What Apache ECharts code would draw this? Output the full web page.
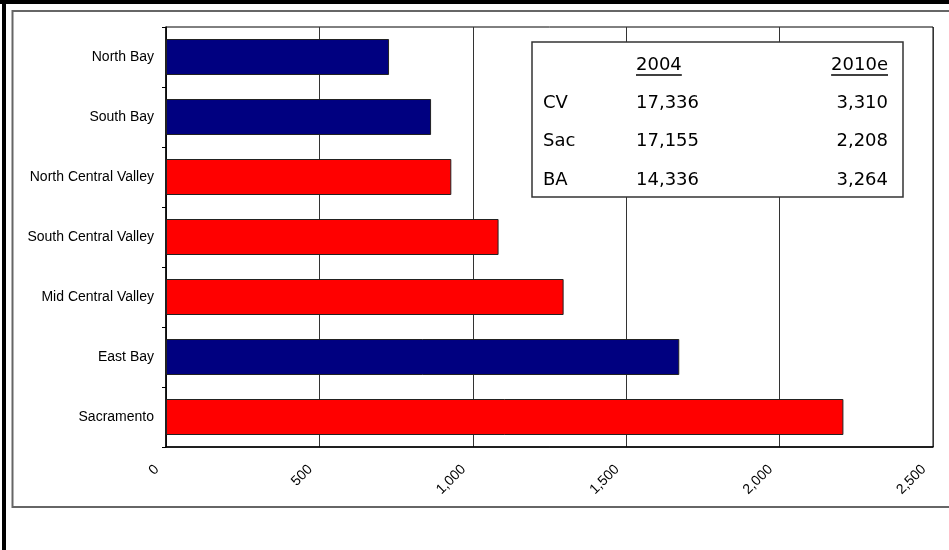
<!DOCTYPE html>
<html>
<head>
<meta charset="utf-8">
<script src="https://cdn.jsdelivr.net/npm/echarts@6/dist/echarts.min.js"></script>
<style>
  html, body { margin: 0; padding: 0; background: #fff; }
  #chart { width: 949px; height: 550px; }
</style>
</head>
<body>
<div id="chart"></div>
<script>
// chart data (top to bottom)
const regions = ["North Bay", "South Bay", "North Central Valley", "South Central Valley", "Mid Central Valley", "East Bay", "Sacramento"];
const values = [727, 864, 930, 1084, 1296, 1673, 2208];
const areaOf = ["BA", "BA", "CV", "CV", "CV", "BA", "Sac"];
const xTicks = [0, 500, 1000, 1500, 2000, 2500];

// inset table
const tableHead = ["2004", "2010e"];
const tableRows = ["CV", "Sac", "BA"];
const table2004 = ["17,336", "17,155", "14,336"];
const table2010 = ["3,310", "2,208", "3,264"];

const areaColor = { BA: "#000080", CV: "#ff0000", Sac: "#ff0000" };

const chart = echarts.init(document.getElementById("chart"));

const tableFont = '18px "DejaVu Sans"';
const measure = document.createElement("canvas").getContext("2d");
measure.font = tableFont;
function textW(t) { return measure.measureText(t).width; }

// table layout
const box = { x: 532, y: 42, w: 371, h: 155 };
const colLabel = 543, col2004 = 636, col2010 = 888;
const headY = 65, rowY0 = 103, rowStep = 38.5;

const graphics = [
  { type: "rect", shape: { x: 0, y: 0, width: 949, height: 4 }, style: { fill: "#000" }, silent: true },
  { type: "rect", shape: { x: 2, y: 0, width: 4, height: 550 }, style: { fill: "#000" }, silent: true },
  { type: "polyline", shape: { points: [[949, 11], [12.5, 11], [12.5, 507], [949, 507]] }, style: { stroke: "#666", lineWidth: 2, fill: null }, silent: true },
  { type: "rect", z: 100, shape: { x: box.x, y: box.y, width: box.w, height: box.h }, style: { fill: "#fff", stroke: "#333", lineWidth: 1.5 }, silent: true }
];

// header with underline
[[tableHead[0], col2004, "left"], [tableHead[1], col2010, "right"]].forEach(function (h) {
  const w = textW(h[0]);
  const x0 = h[2] === "left" ? h[1] : h[1] - w;
  graphics.push({ type: "text", z: 101, style: { text: h[0], x: h[1], y: headY, align: h[2], verticalAlign: "middle", font: tableFont, fill: "#000" }, silent: true });
  graphics.push({ type: "line", z: 101, shape: { x1: x0, y1: headY + 10, x2: x0 + w, y2: headY + 10 }, style: { stroke: "#000", lineWidth: 1.5 }, silent: true });
});

tableRows.forEach(function (r, i) {
  const y = rowY0 + i * rowStep;
  graphics.push({ type: "text", z: 101, style: { text: r, x: colLabel, y: y, align: "left", verticalAlign: "middle", font: tableFont, fill: "#000" }, silent: true });
  graphics.push({ type: "text", z: 101, style: { text: table2004[i], x: col2004, y: y, align: "left", verticalAlign: "middle", font: tableFont, fill: "#000" }, silent: true });
  graphics.push({ type: "text", z: 101, style: { text: table2010[i], x: col2010, y: y, align: "right", verticalAlign: "middle", font: tableFont, fill: "#000" }, silent: true });
});

chart.setOption({
  animation: false,
  backgroundColor: "#fff",
  grid: {
    left: 166,
    right: 16,
    top: 27,
    bottom: 103,
    show: true,
    borderColor: "#000",
    borderWidth: 1
  },
  xAxis: {
    type: "value",
    min: xTicks[0],
    max: xTicks[xTicks.length - 1],
    interval: xTicks[1] - xTicks[0],
    axisLine: { show: true, lineStyle: { color: "#000", width: 1.5 } },
    axisTick: { show: false },
    splitLine: { show: true, lineStyle: { color: "#333", width: 1 } },
    axisLabel: {
      rotate: 45,
      margin: 11,
      padding: [0, 13, 0, 0],
      color: "#000",
      fontFamily: "Liberation Sans",
      fontSize: 14,
      formatter: function (v) { return echarts.format.addCommas(v); }
    }
  },
  yAxis: {
    type: "category",
    data: regions,
    inverse: true,
    axisLine: { show: true, lineStyle: { color: "#000", width: 1.5 } },
    axisTick: { show: true, length: 4, lineStyle: { color: "#000" } },
    splitLine: { show: false },
    axisLabel: {
      margin: 12,
      color: "#000",
      fontFamily: "Liberation Sans",
      fontSize: 14
    }
  },
  series: [
    {
      type: "bar",
      barCategoryGap: "40%",
      data: values.map(function (v, i) {
        return { value: v, itemStyle: { color: areaColor[areaOf[i]] } };
      }),
      itemStyle: { borderColor: "#222", borderWidth: 1 }
    }
  ],
  graphic: graphics
});
</script>
</body>
</html>
